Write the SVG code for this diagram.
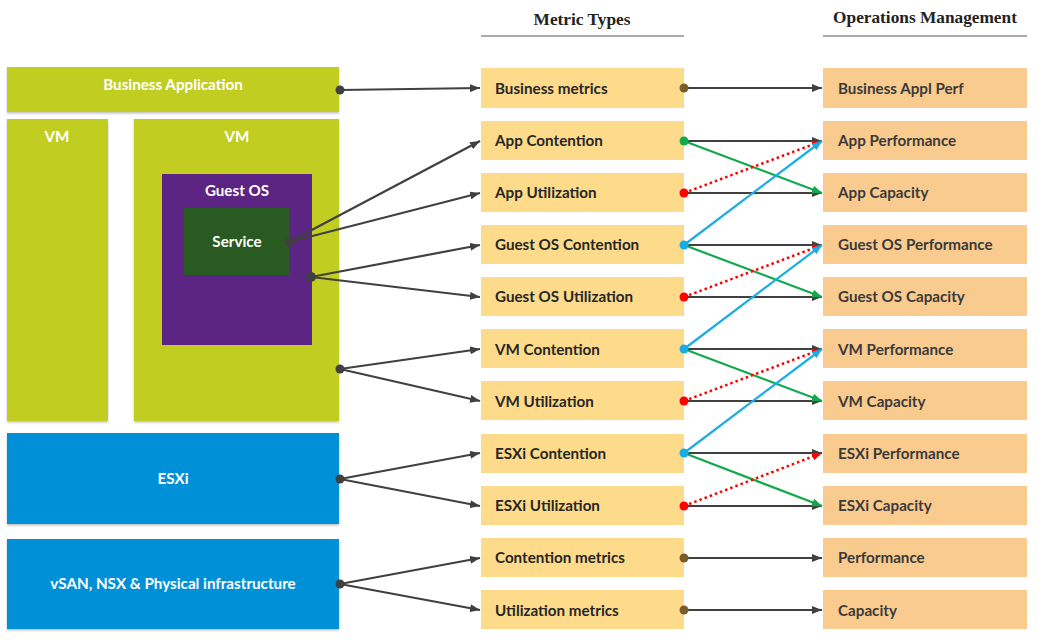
<svg xmlns="http://www.w3.org/2000/svg" width="1048" height="640" viewBox="0 0 1048 640">
<style>
.bg{fill:#ffffff}
.lime{fill:#C2CD23}
.blue{fill:#0090D8}
.mid{fill:#FEDB8B}
.rt{fill:#FACB8E}
.wt{font-family:Lato,"Open Sans","Liberation Sans",sans-serif;font-weight:bold;font-size:15.2px;fill:#ffffff}
.bt{font-family:Lato,"Open Sans","Liberation Sans",sans-serif;font-weight:bold;font-size:15.2px;fill:#262626}
.rtt{font-family:Lato,"Open Sans","Liberation Sans",sans-serif;font-weight:bold;font-size:15.2px;fill:#3a3a3a}
.hd{font-family:"Liberation Serif",serif;font-weight:bold;font-size:17.3px;fill:#222222}
.ln{stroke:#404040;stroke-width:2.2;fill:none}
.g{stroke:#12A84B;stroke-width:2.2;fill:none}
.b{stroke:#1AADE4;stroke-width:2.2;fill:none}
.r{stroke:#FF0000;stroke-width:2.5;fill:none;stroke-dasharray:2.5 3}
</style>
<defs>
<filter id="sh" x="-5%" y="-5%" width="110%" height="115%">
<feDropShadow dx="0" dy="1.5" stdDeviation="1.2" flood-color="#000" flood-opacity="0.25"/>
</filter>
<marker id="ad" viewBox="0 0 10 8" refX="10" refY="4" markerWidth="10" markerHeight="8" markerUnits="userSpaceOnUse" orient="auto"><path d="M0,0 L10,4 L0,8 z" fill="#404040"/></marker>
<marker id="ag" viewBox="0 0 10 8" refX="10" refY="4" markerWidth="10" markerHeight="8" markerUnits="userSpaceOnUse" orient="auto"><path d="M0,0 L10,4 L0,8 z" fill="#12A84B"/></marker>
<marker id="ab" viewBox="0 0 10 8" refX="10" refY="4" markerWidth="10" markerHeight="8" markerUnits="userSpaceOnUse" orient="auto"><path d="M0,0 L10,4 L0,8 z" fill="#1AADE4"/></marker>
<marker id="ar" viewBox="0 0 10 8" refX="10" refY="4" markerWidth="10" markerHeight="8" markerUnits="userSpaceOnUse" orient="auto"><path d="M0,0 L10,4 L0,8 z" fill="#FF0000"/></marker>
</defs>
<rect class="bg" x="0" y="0" width="1048" height="640"/>

<g id="headers">
<text class="hd" x="582" y="25" text-anchor="middle">Metric Types</text>
<line x1="481" y1="36" x2="684" y2="36" stroke="#595959" stroke-width="1.2"/>
<text class="hd" x="925" y="23" text-anchor="middle">Operations Management</text>
<line x1="823" y1="36" x2="1027" y2="36" stroke="#595959" stroke-width="1.2"/>
</g>

<g id="business-application"><rect class="lime" x="7" y="67" width="332" height="45" filter="url(#sh)"/><text class="wt" x="173" y="90" text-anchor="middle">Business Application</text></g>
<g id="vm-left"><rect class="lime" x="7" y="119" width="101" height="302" filter="url(#sh)"/><text class="wt" x="57" y="142" text-anchor="middle">VM</text></g>
<g id="vm-right"><rect class="lime" x="134" y="119" width="205" height="302" filter="url(#sh)"/><text class="wt" x="237" y="142" text-anchor="middle">VM</text></g>
<g id="guest-os"><rect x="162" y="174" width="150" height="171" fill="#5C2483"/><text class="wt" x="237" y="196" text-anchor="middle">Guest OS</text></g>
<g id="service"><rect x="184" y="208" width="105" height="67" fill="#285A21"/><text class="wt" x="237" y="247" text-anchor="middle">Service</text></g>
<g id="esxi"><rect class="blue" x="7" y="433" width="332" height="91" filter="url(#sh)"/><text class="wt" x="173" y="484" text-anchor="middle">ESXi</text></g>
<g id="vsan"><rect class="blue" x="7" y="539" width="332" height="90" filter="url(#sh)"/><text class="wt" x="173" y="589" text-anchor="middle">vSAN, NSX &amp; Physical infrastructure</text></g>

<g id="mt-business"><rect class="mid" x="481" y="68" width="203" height="40"/><text class="bt" x="495" y="94">Business metrics</text></g>
<g id="mt-app-cont"><rect class="mid" x="481" y="121" width="203" height="39"/><text class="bt" x="495" y="146">App Contention</text></g>
<g id="mt-app-util"><rect class="mid" x="481" y="173" width="203" height="39"/><text class="bt" x="495" y="198">App Utilization</text></g>
<g id="mt-gos-cont"><rect class="mid" x="481" y="225" width="203" height="39"/><text class="bt" x="495" y="250">Guest OS Contention</text></g>
<g id="mt-gos-util"><rect class="mid" x="481" y="277" width="203" height="39"/><text class="bt" x="495" y="302">Guest OS Utilization</text></g>
<g id="mt-vm-cont"><rect class="mid" x="481" y="329" width="203" height="39"/><text class="bt" x="495" y="355">VM Contention</text></g>
<g id="mt-vm-util"><rect class="mid" x="481" y="381" width="203" height="39"/><text class="bt" x="495" y="407">VM Utilization</text></g>
<g id="mt-esxi-cont"><rect class="mid" x="481" y="434" width="203" height="39"/><text class="bt" x="495" y="459">ESXi Contention</text></g>
<g id="mt-esxi-util"><rect class="mid" x="481" y="486" width="203" height="39"/><text class="bt" x="495" y="511">ESXi Utilization</text></g>
<g id="mt-cont"><rect class="mid" x="481" y="538" width="203" height="39"/><text class="bt" x="495" y="563">Contention metrics</text></g>
<g id="mt-util"><rect class="mid" x="481" y="590" width="203" height="39"/><text class="bt" x="495" y="616">Utilization metrics</text></g>

<g id="om-business"><rect class="rt" x="823" y="68" width="204" height="40"/><text class="rtt" x="838" y="94">Business Appl Perf</text></g>
<g id="om-app-perf"><rect class="rt" x="823" y="121" width="204" height="39"/><text class="rtt" x="838" y="146">App Performance</text></g>
<g id="om-app-cap"><rect class="rt" x="823" y="173" width="204" height="39"/><text class="rtt" x="838" y="198">App Capacity</text></g>
<g id="om-gos-perf"><rect class="rt" x="823" y="225" width="204" height="39"/><text class="rtt" x="838" y="250">Guest OS Performance</text></g>
<g id="om-gos-cap"><rect class="rt" x="823" y="277" width="204" height="39"/><text class="rtt" x="838" y="302">Guest OS Capacity</text></g>
<g id="om-vm-perf"><rect class="rt" x="823" y="329" width="204" height="39"/><text class="rtt" x="838" y="355">VM Performance</text></g>
<g id="om-vm-cap"><rect class="rt" x="823" y="381" width="204" height="39"/><text class="rtt" x="838" y="407">VM Capacity</text></g>
<g id="om-esxi-perf"><rect class="rt" x="823" y="434" width="204" height="39"/><text class="rtt" x="838" y="459">ESXi Performance</text></g>
<g id="om-esxi-cap"><rect class="rt" x="823" y="486" width="204" height="39"/><text class="rtt" x="838" y="511">ESXi Capacity</text></g>
<g id="om-perf"><rect class="rt" x="823" y="538" width="204" height="39"/><text class="rtt" x="838" y="563">Performance</text></g>
<g id="om-cap"><rect class="rt" x="823" y="590" width="204" height="39"/><text class="rtt" x="838" y="616">Capacity</text></g>

<g id="connectors">
<line class="ln" x1="340" y1="90" x2="480" y2="88" marker-end="url(#ad)"/>
<line class="ln" x1="289" y1="242" x2="480" y2="141" marker-end="url(#ad)"/>
<line class="ln" x1="289" y1="242" x2="480" y2="193" marker-end="url(#ad)"/>
<line class="ln" x1="311" y1="277" x2="480" y2="245" marker-end="url(#ad)"/>
<line class="ln" x1="311" y1="277" x2="480" y2="297" marker-end="url(#ad)"/>
<line class="ln" x1="340" y1="369" x2="480" y2="349" marker-end="url(#ad)"/>
<line class="ln" x1="340" y1="369" x2="480" y2="401" marker-end="url(#ad)"/>
<line class="ln" x1="340" y1="479" x2="480" y2="453" marker-end="url(#ad)"/>
<line class="ln" x1="340" y1="479" x2="480" y2="506" marker-end="url(#ad)"/>
<line class="ln" x1="340" y1="584" x2="480" y2="558" marker-end="url(#ad)"/>
<line class="ln" x1="340" y1="584" x2="480" y2="610" marker-end="url(#ad)"/>
<g fill="#404040">
<circle cx="340" cy="90" r="4.5"/>
<circle cx="289" cy="242" r="4.5"/>
<circle cx="311" cy="277" r="5"/>
<circle cx="340" cy="369" r="4.5"/>
<circle cx="340" cy="479" r="4.5"/>
<circle cx="340" cy="584" r="4.5"/>
</g>
<line class="ln" x1="684" y1="88" x2="822" y2="88" marker-end="url(#ad)"/>
<line class="ln" x1="684" y1="141" x2="822" y2="141" marker-end="url(#ad)"/>
<line class="ln" x1="684" y1="193" x2="822" y2="193" marker-end="url(#ad)"/>
<line class="ln" x1="684" y1="245" x2="822" y2="245" marker-end="url(#ad)"/>
<line class="ln" x1="684" y1="297" x2="822" y2="297" marker-end="url(#ad)"/>
<line class="ln" x1="684" y1="349" x2="822" y2="349" marker-end="url(#ad)"/>
<line class="ln" x1="684" y1="401" x2="822" y2="401" marker-end="url(#ad)"/>
<line class="ln" x1="684" y1="453" x2="822" y2="453" marker-end="url(#ad)"/>
<line class="ln" x1="684" y1="506" x2="822" y2="506" marker-end="url(#ad)"/>
<line class="ln" x1="684" y1="558" x2="822" y2="558" marker-end="url(#ad)"/>
<line class="ln" x1="684" y1="610" x2="822" y2="610" marker-end="url(#ad)"/>
<line class="g" x1="684" y1="141" x2="822" y2="193" marker-end="url(#ag)"/>
<line class="g" x1="684" y1="245" x2="822" y2="297" marker-end="url(#ag)"/>
<line class="g" x1="684" y1="349" x2="822" y2="401" marker-end="url(#ag)"/>
<line class="g" x1="684" y1="453" x2="822" y2="506" marker-end="url(#ag)"/>
<line class="r" x1="684" y1="193" x2="822" y2="141" marker-end="url(#ar)"/>
<line class="r" x1="684" y1="297" x2="822" y2="245" marker-end="url(#ar)"/>
<line class="r" x1="684" y1="401" x2="822" y2="349" marker-end="url(#ar)"/>
<line class="r" x1="684" y1="506" x2="822" y2="453" marker-end="url(#ar)"/>
<line class="b" x1="684" y1="245" x2="822" y2="141" marker-end="url(#ab)"/>
<line class="b" x1="684" y1="349" x2="822" y2="245" marker-end="url(#ab)"/>
<line class="b" x1="684" y1="453" x2="822" y2="349" marker-end="url(#ab)"/>
<g fill="#7A5E2A">
<circle cx="684" cy="88" r="4.5"/>
<circle cx="684" cy="558" r="4.5"/>
<circle cx="684" cy="610" r="4.5"/>
</g>
<circle cx="684" cy="141" r="4.5" fill="#12A84B"/>
<g fill="#FF0000">
<circle cx="684" cy="193" r="4.5"/>
<circle cx="684" cy="297" r="4.5"/>
<circle cx="684" cy="401" r="4.5"/>
<circle cx="684" cy="506" r="4.5"/>
</g>
<g fill="#1AADE4">
<circle cx="684" cy="245" r="4.5"/>
<circle cx="684" cy="349" r="4.5"/>
<circle cx="684" cy="453" r="4.5"/>
</g>
</g>
</svg>
